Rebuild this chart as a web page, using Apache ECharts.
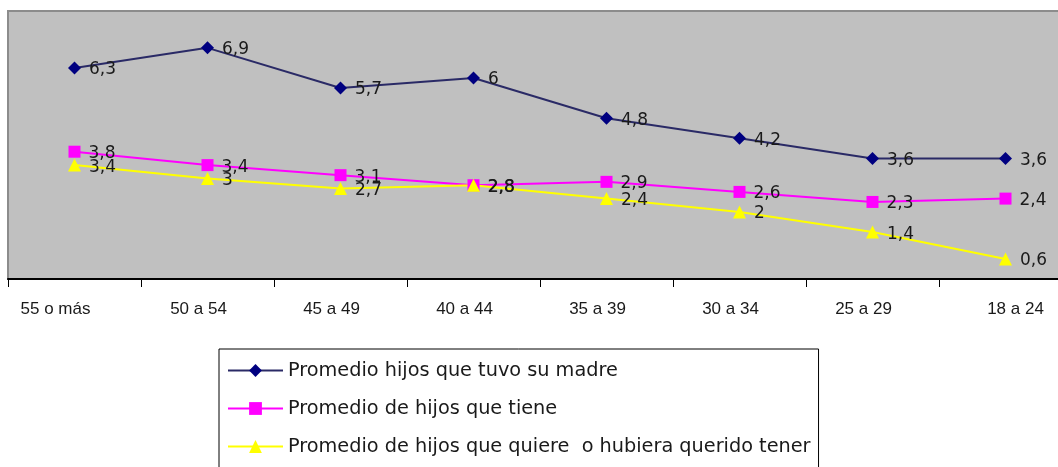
<!DOCTYPE html>
<html>
<head>
<meta charset="utf-8">
<script src="https://cdn.jsdelivr.net/npm/echarts@6/dist/echarts.min.js"></script>
<style>
  html, body { margin: 0; padding: 0; background: #fff; overflow: hidden; }
  #main { width: 1080px; height: 467px; }
</style>
</head>
<body>
<div id="main"></div>
<script>
// grupos de edad
var categorias = ["55 o más", "50 a 54", "45 a 49", "40 a 44", "35 a 39", "30 a 34", "25 a 29", "18 a 24"];
var hijosMadre = [6.3, 6.9, 5.7, 6, 4.8, 4.2, 3.6, 3.6];
var hijosTiene = [3.8, 3.4, 3.1, 2.8, 2.9, 2.6, 2.3, 2.4];
var hijosQuiere = [3.4, 3, 2.7, 2.8, 2.4, 2, 1.4, 0.6];

var nombres = [
  "Promedio hijos que tuvo su madre",
  "Promedio de hijos que tiene",
  "Promedio de hijos que quiere  o hubiera querido tener"
];

var fuente = "'Liberation Sans', Arial, sans-serif";
var fuenteAncha = "'DejaVu Sans', Verdana, sans-serif";

function etiqueta(p) {
  return String(p.value).replace(".", ",");
}

function serie(nombre, datos, color, lineColor, simbolo, size) {
  return {
    name: nombre,
    type: "line",
    data: datos,
    symbol: simbolo,
    symbolSize: size,
    itemStyle: { color: color },
    lineStyle: { color: lineColor, width: 2 },
    label: {
      show: true,
      position: "right",
      distance: 8,
      offset: [0, 2],
      color: "#1a1a1a",
      fontFamily: fuenteAncha,
      fontSize: 17,
      formatter: etiqueta
    },
    animation: false
  };
}

// el primer y el ultimo rotulo van algo desplazados, como en Excel
var ultimo = categorias.length - 1;
var ejeX = categorias.map(function (c, i) {
  if (i === 0) return { value: c, textStyle: { padding: [0, 38, 0, 0] } };
  if (i === ultimo) return { value: c, textStyle: { padding: [0, 0, 0, 20] } };
  return c;
});

var myChart = echarts.init(document.getElementById("main"));
var option = {
  backgroundColor: "#ffffff",
  grid: {
    left: 8,
    top: 11,
    width: 1064,
    height: 268,
    show: true,
    backgroundColor: "#c0c0c0",
    borderColor: "#8c8c8c",
    borderWidth: 2
  },
  legend: {
    orient: "vertical",
    left: 219,
    top: 349,
    height: 140,
    padding: [12, 8, 30, 8],
    itemWidth: 55,
    itemHeight: 16,
    itemGap: 19,
    backgroundColor: "#ffffff",
    borderColor: "#000000",
    borderWidth: 1,
    selectedMode: false,
    textStyle: { color: "#1a1a1a", fontFamily: fuenteAncha, fontSize: 19.3 },
    data: nombres
  },
  xAxis: {
    type: "category",
    data: ejeX,
    boundaryGap: true,
    axisLine: { lineStyle: { color: "#000000", width: 2 } },
    axisTick: { show: true, length: 8, interval: 0, lineStyle: { color: "#000000", width: 1 } },
    axisLabel: {
      margin: 22,
      color: "#1a1a1a",
      fontFamily: fuente,
      fontSize: 17,
      interval: 0,
      padding: [0, 18, 0, 0]
    }
  },
  yAxis: {
    type: "value",
    min: 0,
    max: 8,
    show: false,
    splitLine: { show: false }
  },
  series: [
    serie(nombres[0], hijosMadre, "#000080", "#2a2a66", "diamond", 13),
    serie(nombres[1], hijosTiene, "#ff00ff", "#ff00ff", "rect", 12),
    serie(nombres[2], hijosQuiere, "#ffff00", "#ffff00", "triangle", 13)
  ]
};
myChart.setOption(option);
</script>
</body>
</html>
